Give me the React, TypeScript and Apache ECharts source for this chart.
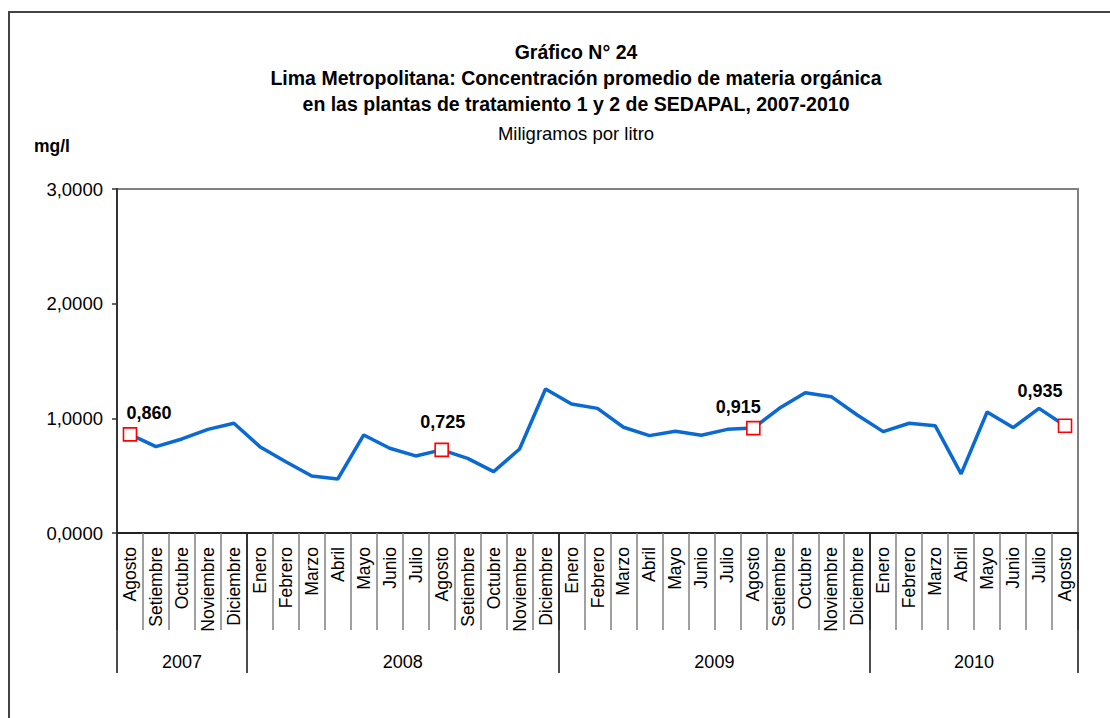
import React, { useEffect, useRef } from "react";
import * as echarts from "echarts";

const months: string[] = [
  "Agosto", "Setiembre", "Octubre", "Noviembre", "Diciembre",
  "Enero", "Febrero", "Marzo", "Abril", "Mayo", "Junio", "Julio", "Agosto", "Setiembre", "Octubre", "Noviembre", "Diciembre",
  "Enero", "Febrero", "Marzo", "Abril", "Mayo", "Junio", "Julio", "Agosto", "Setiembre", "Octubre", "Noviembre", "Diciembre",
  "Enero", "Febrero", "Marzo", "Abril", "Mayo", "Junio", "Julio", "Agosto",
];

const values: number[] = [
  0.86, 0.753, 0.82, 0.904, 0.957,
  0.753, 0.622, 0.497, 0.471, 0.855, 0.739, 0.672, 0.725, 0.651, 0.535, 0.733, 1.256,
  1.125, 1.087, 0.922, 0.849, 0.887, 0.852, 0.904, 0.915, 1.087, 1.224, 1.189, 1.029,
  0.884, 0.957, 0.936, 0.515, 1.055, 0.919, 1.087, 0.935,
];

const years: string[] = ["2007", "2008", "2009", "2010"];
const monthsPerYear: number[] = [5, 12, 12, 8];

const markedIdx: number[] = [0, 12, 24, 36];
const labelOffsets: number[][] = [[19, 0], [1, -7], [-15, 0], [-25, -13]];

const yTicks: number[] = [0, 1, 2, 3];

const FONT = "'Liberation Sans', Arial, sans-serif";

export default function App() {
  const ref = useRef<HTMLDivElement>(null);

  useEffect(() => {
    if (!ref.current) return;
    const chart = echarts.init(ref.current, undefined, { renderer: "svg" });

    // year axis on half-month grid (boundaryGap false)
    const halfSlots = months.length * 2 + 1;
    const yearData: string[] = new Array(halfSlots).fill("");
    const yearBounds: number[] = [0];
    let acc = 0;
    monthsPerYear.forEach((n, i) => {
      yearData[acc * 2 + n] = years[i];
      acc += n;
      yearBounds.push(acc * 2);
    });

    const seriesData = values.map((v, i) => {
      const k = markedIdx.indexOf(i);
      if (k >= 0) {
        return {
          value: v,
          symbol: "rect",
          symbolSize: 13,
          itemStyle: { color: "#ffffff", borderColor: "#ff0000", borderWidth: 1.6 },
          label: {
            show: true,
            position: "top",
            offset: labelOffsets[k],
            formatter: (p: any) => p.value.toFixed(3).replace(".", ","),
            fontFamily: FONT,
            fontSize: 18,
            fontWeight: "bold",
            color: "#000",
          },
        };
      }
      return { value: v, symbol: "none" };
    });

    chart.setOption({
      animation: false,
      backgroundColor: "#ffffff",
      textStyle: { fontFamily: FONT },
      title: [
        {
          text: "Gráfico N° 24\nLima Metropolitana: Concentración promedio de materia orgánica\nen las plantas de tratamiento 1 y 2 de SEDAPAL, 2007-2010",
          subtext: "Miligramos por litro",
          left: 571,
          top: 34,
          textAlign: "center",
          itemGap: 7,
          textStyle: { fontFamily: FONT, fontSize: 19.5, fontWeight: "bold", color: "#000", lineHeight: 26 },
          subtextStyle: { fontFamily: FONT, fontSize: 18.5, color: "#000" },
        },
        {
          text: "mg/l",
          left: 29,
          top: 132,
          textStyle: { fontFamily: FONT, fontSize: 17.5, fontWeight: "bold", color: "#000" },
        },
      ],
      graphic: [
        {
          type: "rect",
          shape: { x: 9, y: 12, width: 1300, height: 900 },
          style: { fill: "none", stroke: "#444", lineWidth: 2 },
          silent: true,
          z: -10,
        },
      ],
      grid: {
        left: 117,
        top: 189,
        right: 32,
        bottom: 185,
        show: true,
        borderColor: "#808080",
        borderWidth: 2,
      },
      xAxis: [
        {
          type: "category",
          data: months,
          boundaryGap: true,
          axisLine: { show: true, lineStyle: { color: "#222", width: 2 } },
          axisTick: { show: true, length: 97, lineStyle: { color: "#808080", width: 1.5 } },
          axisLabel: {
            interval: 0,
            rotate: 90,
            margin: 14,
            fontSize: 17.5,
            color: "#000",
            fontFamily: FONT,
          },
          splitLine: { show: false },
        },
        {
          type: "category",
          data: yearData,
          boundaryGap: false,
          position: "bottom",
          axisLine: { show: false },
          axisTick: {
            show: true,
            length: 140,
            interval: (idx: number) => yearBounds.indexOf(idx) >= 0,
            lineStyle: { color: "#111", width: 1.5 },
          },
          axisLabel: {
            interval: 0,
            margin: 120,
            fontSize: 18,
            color: "#000",
            fontFamily: FONT,
          },
          splitLine: { show: false },
        },
      ],
      yAxis: {
        type: "value",
        min: yTicks[0],
        max: yTicks[yTicks.length - 1],
        interval: 1,
        axisLine: { show: true, lineStyle: { color: "#333", width: 2 } },
        axisTick: { show: true, length: 5, lineStyle: { color: "#333", width: 1.5 } },
        axisLabel: {
          margin: 14,
          fontSize: 18.5,
          color: "#000",
          fontFamily: FONT,
          formatter: (v: number) => v.toFixed(4).replace(".", ","),
        },
        splitLine: { show: false },
      },
      series: [
        {
          type: "line",
          xAxisIndex: 0,
          data: seriesData,
          showAllSymbol: true,
          symbol: "none",
          lineStyle: { color: "#0A6AD2", width: 3.5 },
          itemStyle: { color: "#0A6AD2" },
          z: 3,
        },
      ],
    });

    return () => chart.dispose();
  }, []);

  return (
    <div
      ref={ref}
      style={{ position: "fixed", left: 0, top: 0, width: 1110, height: 718, background: "#fff" }}
    />
  );
}
